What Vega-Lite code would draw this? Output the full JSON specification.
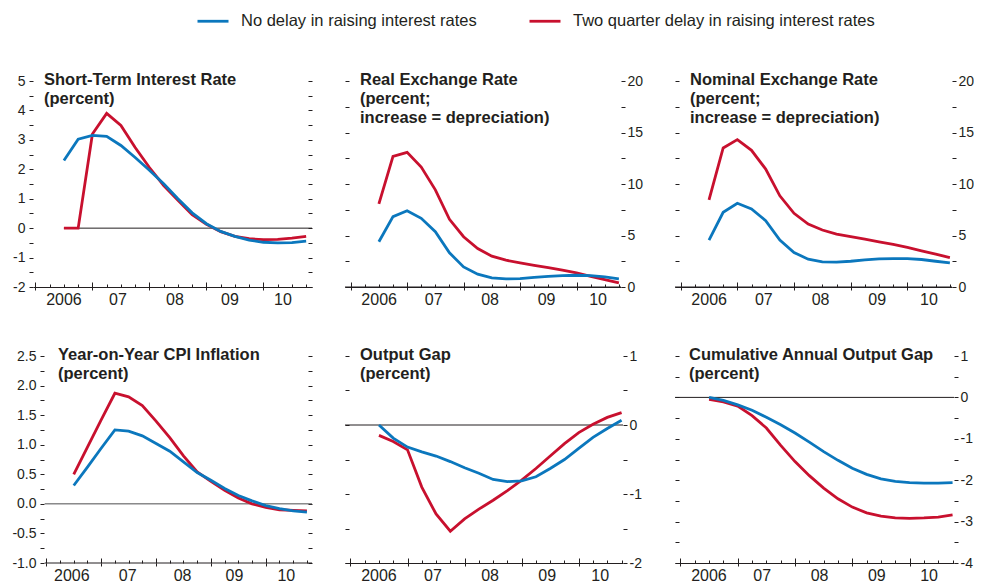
{
  "$schema": "https://vega.github.io/schema/vega-lite/v6.json",
  "padding": {"left": 11, "top": 4, "right": 0, "bottom": 0},
  "config": {
    "view": {"stroke": null},
    "font": "Liberation Sans, Arial, Helvetica, sans-serif",
    "axis": {"labelFont": "Liberation Sans, Arial, Helvetica, sans-serif", "labelColor": "#231f20", "tickColor": "#231f20", "domainColor": "#231f20", "grid": false, "minExtent": 0, "labelOverlap": false, "labelFontSize": 14, "tickWidth": 1, "domainWidth": 1},
    "title": {"font": "Liberation Sans, Arial, Helvetica, sans-serif", "fontSize": 16.5, "fontWeight": "bold", "anchor": "start", "frame": "group", "orient": "top", "lineHeight": 19, "color": "#231f20"},
    "legend": {"orient": "none", "legendX": 163, "legendY": -77, "direction": "horizontal", "title": null, "symbolType": "stroke", "symbolSize": 961, "symbolStrokeWidth": 2.8, "labelFont": "Liberation Sans, Arial, Helvetica, sans-serif", "labelFontSize": 16.5, "labelColor": "#231f20", "columnPadding": 46, "labelOffset": 11, "labelLimit": 0}
  },
  "datasets": {
    "d1": [
      {"t": 0, "No delay in raising interest rates": 2.30, "Two quarter delay in raising interest rates": 0},
      {"t": 1, "No delay in raising interest rates": 3.02, "Two quarter delay in raising interest rates": 0},
      {"t": 2, "No delay in raising interest rates": 3.15, "Two quarter delay in raising interest rates": 3.20},
      {"t": 3, "No delay in raising interest rates": 3.12, "Two quarter delay in raising interest rates": 3.90},
      {"t": 4, "No delay in raising interest rates": 2.81, "Two quarter delay in raising interest rates": 3.49},
      {"t": 5, "No delay in raising interest rates": 2.40, "Two quarter delay in raising interest rates": 2.74},
      {"t": 6, "No delay in raising interest rates": 1.97, "Two quarter delay in raising interest rates": 2.06},
      {"t": 7, "No delay in raising interest rates": 1.51, "Two quarter delay in raising interest rates": 1.45},
      {"t": 8, "No delay in raising interest rates": 1.00, "Two quarter delay in raising interest rates": 0.95},
      {"t": 9, "No delay in raising interest rates": 0.52, "Two quarter delay in raising interest rates": 0.46},
      {"t": 10, "No delay in raising interest rates": 0.15, "Two quarter delay in raising interest rates": 0.13},
      {"t": 11, "No delay in raising interest rates": -0.11, "Two quarter delay in raising interest rates": -0.12},
      {"t": 12, "No delay in raising interest rates": -0.28, "Two quarter delay in raising interest rates": -0.28},
      {"t": 13, "No delay in raising interest rates": -0.41, "Two quarter delay in raising interest rates": -0.36},
      {"t": 14, "No delay in raising interest rates": -0.48, "Two quarter delay in raising interest rates": -0.39},
      {"t": 15, "No delay in raising interest rates": -0.50, "Two quarter delay in raising interest rates": -0.38},
      {"t": 16, "No delay in raising interest rates": -0.49, "Two quarter delay in raising interest rates": -0.34},
      {"t": 17, "No delay in raising interest rates": -0.44, "Two quarter delay in raising interest rates": -0.28}
    ],
    "d2": [
      {"t": 0, "No delay in raising interest rates": 4.39, "Two quarter delay in raising interest rates": 8.07},
      {"t": 1, "No delay in raising interest rates": 6.83, "Two quarter delay in raising interest rates": 12.68},
      {"t": 2, "No delay in raising interest rates": 7.41, "Two quarter delay in raising interest rates": 13.07},
      {"t": 3, "No delay in raising interest rates": 6.67, "Two quarter delay in raising interest rates": 11.64},
      {"t": 4, "No delay in raising interest rates": 5.37, "Two quarter delay in raising interest rates": 9.43},
      {"t": 5, "No delay in raising interest rates": 3.32, "Two quarter delay in raising interest rates": 6.57},
      {"t": 6, "No delay in raising interest rates": 1.95, "Two quarter delay in raising interest rates": 4.88},
      {"t": 7, "No delay in raising interest rates": 1.24, "Two quarter delay in raising interest rates": 3.74},
      {"t": 8, "No delay in raising interest rates": 0.88, "Two quarter delay in raising interest rates": 2.99},
      {"t": 9, "No delay in raising interest rates": 0.78, "Two quarter delay in raising interest rates": 2.60},
      {"t": 10, "No delay in raising interest rates": 0.81, "Two quarter delay in raising interest rates": 2.34},
      {"t": 11, "No delay in raising interest rates": 0.94, "Two quarter delay in raising interest rates": 2.11},
      {"t": 12, "No delay in raising interest rates": 1.04, "Two quarter delay in raising interest rates": 1.89},
      {"t": 13, "No delay in raising interest rates": 1.10, "Two quarter delay in raising interest rates": 1.63},
      {"t": 14, "No delay in raising interest rates": 1.14, "Two quarter delay in raising interest rates": 1.37},
      {"t": 15, "No delay in raising interest rates": 1.10, "Two quarter delay in raising interest rates": 1.04},
      {"t": 16, "No delay in raising interest rates": 0.98, "Two quarter delay in raising interest rates": 0.72},
      {"t": 17, "No delay in raising interest rates": 0.78, "Two quarter delay in raising interest rates": 0.39}
    ],
    "d3": [
      {"t": 0, "No delay in raising interest rates": 4.55, "Two quarter delay in raising interest rates": 8.46},
      {"t": 1, "No delay in raising interest rates": 7.25, "Two quarter delay in raising interest rates": 13.50},
      {"t": 2, "No delay in raising interest rates": 8.13, "Two quarter delay in raising interest rates": 14.31},
      {"t": 3, "No delay in raising interest rates": 7.58, "Two quarter delay in raising interest rates": 13.27},
      {"t": 4, "No delay in raising interest rates": 6.44, "Two quarter delay in raising interest rates": 11.45},
      {"t": 5, "No delay in raising interest rates": 4.55, "Two quarter delay in raising interest rates": 8.85},
      {"t": 6, "No delay in raising interest rates": 3.35, "Two quarter delay in raising interest rates": 7.15},
      {"t": 7, "No delay in raising interest rates": 2.70, "Two quarter delay in raising interest rates": 6.11},
      {"t": 8, "No delay in raising interest rates": 2.44, "Two quarter delay in raising interest rates": 5.53},
      {"t": 9, "No delay in raising interest rates": 2.41, "Two quarter delay in raising interest rates": 5.14},
      {"t": 10, "No delay in raising interest rates": 2.50, "Two quarter delay in raising interest rates": 4.88},
      {"t": 11, "No delay in raising interest rates": 2.63, "Two quarter delay in raising interest rates": 4.65},
      {"t": 12, "No delay in raising interest rates": 2.73, "Two quarter delay in raising interest rates": 4.39},
      {"t": 13, "No delay in raising interest rates": 2.76, "Two quarter delay in raising interest rates": 4.13},
      {"t": 14, "No delay in raising interest rates": 2.76, "Two quarter delay in raising interest rates": 3.84},
      {"t": 15, "No delay in raising interest rates": 2.67, "Two quarter delay in raising interest rates": 3.51},
      {"t": 16, "No delay in raising interest rates": 2.50, "Two quarter delay in raising interest rates": 3.19},
      {"t": 17, "No delay in raising interest rates": 2.34, "Two quarter delay in raising interest rates": 2.86}
    ],
    "d4": [
      {"t": 0, "No delay in raising interest rates": 0.31, "Two quarter delay in raising interest rates": 0.50},
      {"t": 1, "No delay in raising interest rates": 0.62, "Two quarter delay in raising interest rates": 0.96},
      {"t": 2, "No delay in raising interest rates": 0.94, "Two quarter delay in raising interest rates": 1.42},
      {"t": 3, "No delay in raising interest rates": 1.25, "Two quarter delay in raising interest rates": 1.87},
      {"t": 4, "No delay in raising interest rates": 1.23, "Two quarter delay in raising interest rates": 1.81},
      {"t": 5, "No delay in raising interest rates": 1.15, "Two quarter delay in raising interest rates": 1.66},
      {"t": 6, "No delay in raising interest rates": 1.02, "Two quarter delay in raising interest rates": 1.40},
      {"t": 7, "No delay in raising interest rates": 0.89, "Two quarter delay in raising interest rates": 1.12},
      {"t": 8, "No delay in raising interest rates": 0.71, "Two quarter delay in raising interest rates": 0.81},
      {"t": 9, "No delay in raising interest rates": 0.53, "Two quarter delay in raising interest rates": 0.54},
      {"t": 10, "No delay in raising interest rates": 0.40, "Two quarter delay in raising interest rates": 0.38},
      {"t": 11, "No delay in raising interest rates": 0.26, "Two quarter delay in raising interest rates": 0.23},
      {"t": 12, "No delay in raising interest rates": 0.14, "Two quarter delay in raising interest rates": 0.10},
      {"t": 13, "No delay in raising interest rates": 0.05, "Two quarter delay in raising interest rates": 0.00},
      {"t": 14, "No delay in raising interest rates": -0.03, "Two quarter delay in raising interest rates": -0.06},
      {"t": 15, "No delay in raising interest rates": -0.08, "Two quarter delay in raising interest rates": -0.10},
      {"t": 16, "No delay in raising interest rates": -0.12, "Two quarter delay in raising interest rates": -0.11},
      {"t": 17, "No delay in raising interest rates": -0.14, "Two quarter delay in raising interest rates": -0.12}
    ],
    "d5": [
      {"t": 0, "No delay in raising interest rates": 0.00, "Two quarter delay in raising interest rates": -0.15},
      {"t": 1, "No delay in raising interest rates": -0.19, "Two quarter delay in raising interest rates": -0.24},
      {"t": 2, "No delay in raising interest rates": -0.32, "Two quarter delay in raising interest rates": -0.36},
      {"t": 3, "No delay in raising interest rates": -0.39, "Two quarter delay in raising interest rates": -0.90},
      {"t": 4, "No delay in raising interest rates": -0.45, "Two quarter delay in raising interest rates": -1.29},
      {"t": 5, "No delay in raising interest rates": -0.53, "Two quarter delay in raising interest rates": -1.54},
      {"t": 6, "No delay in raising interest rates": -0.62, "Two quarter delay in raising interest rates": -1.36},
      {"t": 7, "No delay in raising interest rates": -0.70, "Two quarter delay in raising interest rates": -1.22},
      {"t": 8, "No delay in raising interest rates": -0.79, "Two quarter delay in raising interest rates": -1.09},
      {"t": 9, "No delay in raising interest rates": -0.82, "Two quarter delay in raising interest rates": -0.95},
      {"t": 10, "No delay in raising interest rates": -0.81, "Two quarter delay in raising interest rates": -0.80},
      {"t": 11, "No delay in raising interest rates": -0.75, "Two quarter delay in raising interest rates": -0.63},
      {"t": 12, "No delay in raising interest rates": -0.63, "Two quarter delay in raising interest rates": -0.45},
      {"t": 13, "No delay in raising interest rates": -0.50, "Two quarter delay in raising interest rates": -0.27},
      {"t": 14, "No delay in raising interest rates": -0.34, "Two quarter delay in raising interest rates": -0.11},
      {"t": 15, "No delay in raising interest rates": -0.18, "Two quarter delay in raising interest rates": 0.01},
      {"t": 16, "No delay in raising interest rates": -0.05, "Two quarter delay in raising interest rates": 0.11},
      {"t": 17, "No delay in raising interest rates": 0.07, "Two quarter delay in raising interest rates": 0.18}
    ],
    "d6": [
      {"t": 0, "No delay in raising interest rates": 0.00, "Two quarter delay in raising interest rates": -0.05},
      {"t": 1, "No delay in raising interest rates": -0.07, "Two quarter delay in raising interest rates": -0.11},
      {"t": 2, "No delay in raising interest rates": -0.18, "Two quarter delay in raising interest rates": -0.21},
      {"t": 3, "No delay in raising interest rates": -0.31, "Two quarter delay in raising interest rates": -0.44},
      {"t": 4, "No delay in raising interest rates": -0.48, "Two quarter delay in raising interest rates": -0.74},
      {"t": 5, "No delay in raising interest rates": -0.66, "Two quarter delay in raising interest rates": -1.16},
      {"t": 6, "No delay in raising interest rates": -0.86, "Two quarter delay in raising interest rates": -1.55},
      {"t": 7, "No delay in raising interest rates": -1.08, "Two quarter delay in raising interest rates": -1.89},
      {"t": 8, "No delay in raising interest rates": -1.31, "Two quarter delay in raising interest rates": -2.19},
      {"t": 9, "No delay in raising interest rates": -1.52, "Two quarter delay in raising interest rates": -2.45},
      {"t": 10, "No delay in raising interest rates": -1.71, "Two quarter delay in raising interest rates": -2.65},
      {"t": 11, "No delay in raising interest rates": -1.86, "Two quarter delay in raising interest rates": -2.79},
      {"t": 12, "No delay in raising interest rates": -1.97, "Two quarter delay in raising interest rates": -2.87},
      {"t": 13, "No delay in raising interest rates": -2.03, "Two quarter delay in raising interest rates": -2.91},
      {"t": 14, "No delay in raising interest rates": -2.06, "Two quarter delay in raising interest rates": -2.92},
      {"t": 15, "No delay in raising interest rates": -2.07, "Two quarter delay in raising interest rates": -2.91},
      {"t": 16, "No delay in raising interest rates": -2.07, "Two quarter delay in raising interest rates": -2.89},
      {"t": 17, "No delay in raising interest rates": -2.06, "Two quarter delay in raising interest rates": -2.84}
    ]
  },
  "columns": 3,
  "align": "each",
  "spacing": {"row": 39, "column": 31},
  "concat": [
    {
      "width": 279, "height": 206,
      "title": {"text": ["Short-Term Interest Rate", "(percent)"], "dx": 11, "offset": -33},
      "layer": [
        {
          "data": {"values": [{}]},
          "mark": {"type": "rule", "color": "#231f20", "strokeWidth": 1},
          "encoding": {
            "x": {"datum": 0, "type": "quantitative", "scale": {"domain": [-2.17, 17.41], "nice": false, "zero": false},
              "axis": {"orient": "bottom", "title": null, "values": [-2, 2, 6, 10, 14], "domain": false, "tickSize": 3, "labelPadding": 1, "labelFontSize": 16, "labelFlush": false, "labelBound": false,
                "labelExpr": "datum.value < 0 ? '2006' : datum.value < 4 ? '07' : datum.value < 8 ? '08' : datum.value < 12 ? '09' : '10'",
                "labelOffset": {"condition": [{"test": "datum.value < 0", "value": 28}, {"test": "datum.value > 12", "value": 19}, {"test": "datum.value > 8", "value": 23}], "value": 25}}},
            "x2": {"datum": 17.41},
            "y": {"datum": 0, "type": "quantitative", "scale": {"domain": [-2, 5], "nice": false, "zero": false},
              "axis": {"orient": "right", "title": null, "values": [-2, -1.5, -1, -0.5, 0, 0.5, 1, 1.5, 2, 2.5, 3, 3.5, 4, 4.5, 5], "tickSize": -4, "labels": false, "domain": false}}
          }
        },
        {
          "data": {"name": "d1"},
          "transform": [{"fold": ["Two quarter delay in raising interest rates", "No delay in raising interest rates"], "as": ["series", "value"]}],
          "mark": {"type": "line", "strokeWidth": 2.8},
          "encoding": {
            "x": {"field": "t", "type": "quantitative",
              "axis": {"orient": "bottom", "title": null, "values": [-2, -1, 0, 1, 2, 3, 4, 5, 6, 7, 8, 9, 10, 11, 12, 13, 14, 15, 16, 17], "labels": false, "domain": true,
                "tickSize": {"condition": {"test": "indexof([-2, 2, 6, 10, 14], datum.value) >= 0", "value": -5}, "value": -3}}},
            "y": {"field": "value", "type": "quantitative",
              "axis": {"orient": "left", "title": null, "values": [-2, -1.5, -1, -0.5, 0, 0.5, 1, 1.5, 2, 2.5, 3, 3.5, 4, 4.5, 5], "tickSize": 4, "labelPadding": 4, "domain": false,
                "labelExpr": "datum.value % 1 ? '' : replace(format(datum.value, 'd'), '\u2212', '-')"}},
            "color": {"field": "series", "type": "nominal",
              "scale": {"domain": ["No delay in raising interest rates", "Two quarter delay in raising interest rates"], "range": ["#0b77bd", "#c8102e"]}}
          }
        }
      ],
      "resolve": {"axis": {"x": "independent", "y": "independent"}}
    },
    {
      "width": 276, "height": 206,
      "title": {"text": ["Real Exchange Rate", "(percent;", "increase = depreciation)"], "dx": 15, "offset": -52},
      "layer": [
        {
          "data": {"values": [{}]},
          "mark": {"type": "rule", "color": "#231f20", "strokeWidth": 1},
          "encoding": {
            "x": {"datum": -2.4, "type": "quantitative", "scale": {"domain": [-2.4, 17.15], "nice": false, "zero": false},
              "axis": {"orient": "bottom", "title": null, "values": [-2, 2, 6, 10, 14], "domain": false, "tickSize": 3, "labelPadding": 1, "labelFontSize": 16, "labelFlush": false, "labelBound": false,
                "labelExpr": "datum.value < 0 ? '2006' : datum.value < 4 ? '07' : datum.value < 8 ? '08' : datum.value < 12 ? '09' : '10'",
                "labelOffset": {"condition": [{"test": "datum.value < 0", "value": 28}, {"test": "datum.value > 12", "value": 21}, {"test": "datum.value > 8", "value": 26}], "value": 26}}},
            "x2": {"datum": 17.15},
            "y": {"datum": 0, "type": "quantitative", "scale": {"domain": [0, 20], "nice": false, "zero": false},
              "axis": {"orient": "left", "title": null, "values": [0, 2.5, 5, 7.5, 10, 12.5, 15, 17.5, 20], "tickSize": -4, "labels": false, "domain": false}}
          }
        },
        {
          "data": {"name": "d2"},
          "transform": [{"fold": ["Two quarter delay in raising interest rates", "No delay in raising interest rates"], "as": ["series", "value"]}],
          "mark": {"type": "line", "strokeWidth": 2.8},
          "encoding": {
            "x": {"field": "t", "type": "quantitative",
              "axis": {"orient": "bottom", "title": null, "values": [-2, -1, 0, 1, 2, 3, 4, 5, 6, 7, 8, 9, 10, 11, 12, 13, 14, 15, 16, 17], "labels": false, "domain": true,
                "tickSize": {"condition": {"test": "indexof([-2, 2, 6, 10, 14], datum.value) >= 0", "value": -5}, "value": -3}}},
            "y": {"field": "value", "type": "quantitative",
              "axis": {"orient": "right", "title": null, "values": [0, 2.5, 5, 7.5, 10, 12.5, 15, 17.5, 20], "tickSize": 4, "labelPadding": 2, "domain": false,
                "labelExpr": "datum.value % 5 ? '' : format(datum.value, 'd')"}},
            "color": {"field": "series", "type": "nominal",
              "scale": {"domain": ["No delay in raising interest rates", "Two quarter delay in raising interest rates"], "range": ["#0b77bd", "#c8102e"]}}
          }
        }
      ],
      "resolve": {"axis": {"x": "independent", "y": "independent"}}
    },
    {
      "width": 277, "height": 206,
      "title": {"text": ["Nominal Exchange Rate", "(percent;", "increase = depreciation)"], "dx": 15, "offset": -52},
      "layer": [
        {
          "data": {"values": [{}]},
          "mark": {"type": "rule", "color": "#231f20", "strokeWidth": 1},
          "encoding": {
            "x": {"datum": -2.4, "type": "quantitative", "scale": {"domain": [-2.4, 17.15], "nice": false, "zero": false},
              "axis": {"orient": "bottom", "title": null, "values": [-2, 2, 6, 10, 14], "domain": false, "tickSize": 3, "labelPadding": 1, "labelFontSize": 16, "labelFlush": false, "labelBound": false,
                "labelExpr": "datum.value < 0 ? '2006' : datum.value < 4 ? '07' : datum.value < 8 ? '08' : datum.value < 12 ? '09' : '10'",
                "labelOffset": {"condition": [{"test": "datum.value < 0", "value": 28}, {"test": "datum.value > 12", "value": 21}, {"test": "datum.value > 8", "value": 26}], "value": 26}}},
            "x2": {"datum": 17.15},
            "y": {"datum": 0, "type": "quantitative", "scale": {"domain": [0, 20], "nice": false, "zero": false},
              "axis": {"orient": "left", "title": null, "values": [0, 2.5, 5, 7.5, 10, 12.5, 15, 17.5, 20], "tickSize": -4, "labels": false, "domain": false}}
          }
        },
        {
          "data": {"name": "d3"},
          "transform": [{"fold": ["Two quarter delay in raising interest rates", "No delay in raising interest rates"], "as": ["series", "value"]}],
          "mark": {"type": "line", "strokeWidth": 2.8},
          "encoding": {
            "x": {"field": "t", "type": "quantitative",
              "axis": {"orient": "bottom", "title": null, "values": [-2, -1, 0, 1, 2, 3, 4, 5, 6, 7, 8, 9, 10, 11, 12, 13, 14, 15, 16, 17], "labels": false, "domain": true,
                "tickSize": {"condition": {"test": "indexof([-2, 2, 6, 10, 14], datum.value) >= 0", "value": -5}, "value": -3}}},
            "y": {"field": "value", "type": "quantitative",
              "axis": {"orient": "right", "title": null, "values": [0, 2.5, 5, 7.5, 10, 12.5, 15, 17.5, 20], "tickSize": 4, "labelPadding": 2, "domain": false,
                "labelExpr": "datum.value % 5 ? '' : format(datum.value, 'd')"}},
            "color": {"field": "series", "type": "nominal",
              "scale": {"domain": ["No delay in raising interest rates", "Two quarter delay in raising interest rates"], "range": ["#0b77bd", "#c8102e"]}}
          }
        }
      ],
      "resolve": {"axis": {"x": "independent", "y": "independent"}}
    },
    {
      "width": 279, "height": 207,
      "title": {"text": ["Year-on-Year CPI Inflation", "(percent)"], "dx": 25, "offset": -33},
      "layer": [
        {
          "data": {"values": [{}]},
          "mark": {"type": "rule", "color": "#4d4d4f", "strokeWidth": 1},
          "encoding": {
            "x": {"datum": -2.12, "type": "quantitative", "scale": {"domain": [-2.97, 17.37], "nice": false, "zero": false},
              "axis": {"orient": "bottom", "title": null, "values": [-2, 2, 6, 10, 14], "domain": false, "tickSize": 3, "labelPadding": 1, "labelFontSize": 16, "labelFlush": false, "labelBound": false,
                "labelExpr": "datum.value < 0 ? '2006' : datum.value < 4 ? '07' : datum.value < 8 ? '08' : datum.value < 12 ? '09' : '10'",
                "labelOffset": {"condition": [{"test": "datum.value < 0", "value": 25}, {"test": "datum.value > 12", "value": 20}, {"test": "datum.value > 8", "value": 23}], "value": 26}}},
            "x2": {"datum": 17.37},
            "y": {"datum": 0, "type": "quantitative", "scale": {"domain": [-1, 2.5], "nice": false, "zero": false},
              "axis": {"orient": "right", "title": null, "values": [-1, -0.75, -0.5, -0.25, 0, 0.25, 0.5, 0.75, 1, 1.25, 1.5, 1.75, 2, 2.25, 2.5], "tickSize": -4, "labels": false, "domain": false}}
          }
        },
        {
          "data": {"values": [{}]},
          "mark": {"type": "rule", "color": "#231f20", "strokeWidth": 1},
          "encoding": {
            "x": {"datum": -2.12, "type": "quantitative", "axis": null},
            "x2": {"datum": 17.37},
            "y": {"datum": -1, "type": "quantitative", "axis": null}
          }
        },
        {
          "data": {"name": "d4"},
          "transform": [{"fold": ["Two quarter delay in raising interest rates", "No delay in raising interest rates"], "as": ["series", "value"]}],
          "mark": {"type": "line", "strokeWidth": 2.8},
          "encoding": {
            "x": {"field": "t", "type": "quantitative",
              "axis": {"orient": "bottom", "title": null, "values": [-2, -1, 0, 1, 2, 3, 4, 5, 6, 7, 8, 9, 10, 11, 12, 13, 14, 15, 16, 17], "labels": false, "domain": false,
                "tickSize": {"condition": {"test": "indexof([-2, 2, 6, 10, 14], datum.value) >= 0", "value": -5}, "value": -3}}},
            "y": {"field": "value", "type": "quantitative",
              "axis": {"orient": "left", "title": null, "offset": -11, "values": [-1, -0.75, -0.5, -0.25, 0, 0.25, 0.5, 0.75, 1, 1.25, 1.5, 1.75, 2, 2.25, 2.5], "tickSize": 4, "labelPadding": 4, "domain": false,
                "labelExpr": "datum.value % 0.5 ? '' : replace(format(datum.value, '.1f'), '\u2212', '-')"}},
            "color": {"field": "series", "type": "nominal",
              "scale": {"domain": ["No delay in raising interest rates", "Two quarter delay in raising interest rates"], "range": ["#0b77bd", "#c8102e"]}}
          }
        }
      ],
      "resolve": {"axis": {"x": "independent", "y": "independent"}}
    },
    {
      "width": 278, "height": 207,
      "title": {"text": ["Output Gap", "(percent)"], "dx": 15, "offset": -33},
      "layer": [
        {
          "data": {"values": [{}]},
          "mark": {"type": "rule", "color": "#231f20", "strokeWidth": 1},
          "encoding": {
            "x": {"datum": -2.38, "type": "quantitative", "scale": {"domain": [-2.38, 17.1], "nice": false, "zero": false},
              "axis": {"orient": "bottom", "title": null, "values": [-2, 2, 6, 10, 14], "domain": false, "tickSize": 3, "labelPadding": 1, "labelFontSize": 16, "labelFlush": false, "labelBound": false,
                "labelExpr": "datum.value < 0 ? '2006' : datum.value < 4 ? '07' : datum.value < 8 ? '08' : datum.value < 12 ? '09' : '10'",
                "labelOffset": {"condition": [{"test": "datum.value < 0", "value": 28}, {"test": "datum.value > 12", "value": 21}, {"test": "datum.value > 8", "value": 25}], "value": 25}}},
            "x2": {"datum": 17.1},
            "y": {"datum": 0, "type": "quantitative", "scale": {"domain": [-2, 1], "nice": false, "zero": false},
              "axis": {"orient": "left", "title": null, "values": [-2, -1.5, -1, -0.5, 0, 0.5, 1], "tickSize": -4, "labels": false, "domain": false}}
          }
        },
        {
          "data": {"name": "d5"},
          "transform": [{"fold": ["Two quarter delay in raising interest rates", "No delay in raising interest rates"], "as": ["series", "value"]}],
          "mark": {"type": "line", "strokeWidth": 2.8},
          "encoding": {
            "x": {"field": "t", "type": "quantitative",
              "axis": {"orient": "bottom", "title": null, "values": [-2, -1, 0, 1, 2, 3, 4, 5, 6, 7, 8, 9, 10, 11, 12, 13, 14, 15, 16, 17], "labels": false, "domain": true,
                "tickSize": {"condition": {"test": "indexof([-2, 2, 6, 10, 14], datum.value) >= 0", "value": -5}, "value": -3}}},
            "y": {"field": "value", "type": "quantitative",
              "axis": {"orient": "right", "title": null, "values": [-2, -1.5, -1, -0.5, 0, 0.5, 1], "tickSize": 4, "labelPadding": 2, "domain": false,
                "labelExpr": "datum.value % 1 ? '' : replace(format(datum.value, 'd'), '\u2212', '-')"}},
            "color": {"field": "series", "type": "nominal",
              "scale": {"domain": ["No delay in raising interest rates", "Two quarter delay in raising interest rates"], "range": ["#0b77bd", "#c8102e"]}}
          }
        }
      ],
      "resolve": {"axis": {"x": "independent", "y": "independent"}}
    },
    {
      "width": 279, "height": 207,
      "title": {"text": ["Cumulative Annual Output Gap", "(percent)"], "dx": 14, "offset": -33},
      "layer": [
        {
          "data": {"values": [{}]},
          "mark": {"type": "rule", "color": "#231f20", "strokeWidth": 1},
          "encoding": {
            "x": {"datum": -2.38, "type": "quantitative", "scale": {"domain": [-2.38, 17.1], "nice": false, "zero": false},
              "axis": {"orient": "bottom", "title": null, "values": [-2, 2, 6, 10, 14], "domain": false, "tickSize": 3, "labelPadding": 1, "labelFontSize": 16, "labelFlush": false, "labelBound": false,
                "labelExpr": "datum.value < 0 ? '2006' : datum.value < 4 ? '07' : datum.value < 8 ? '08' : datum.value < 12 ? '09' : '10'",
                "labelOffset": {"condition": [{"test": "datum.value < 0", "value": 28}, {"test": "datum.value > 12", "value": 19}, {"test": "datum.value > 8", "value": 24}], "value": 24}}},
            "x2": {"datum": 17.1},
            "y": {"datum": 0, "type": "quantitative", "scale": {"domain": [-4, 1], "nice": false, "zero": false},
              "axis": {"orient": "left", "title": null, "values": [-4, -3.5, -3, -2.5, -2, -1.5, -1, -0.5, 0, 0.5, 1], "tickSize": -4, "labels": false, "domain": false}}
          }
        },
        {
          "data": {"name": "d6"},
          "transform": [{"fold": ["Two quarter delay in raising interest rates", "No delay in raising interest rates"], "as": ["series", "value"]}],
          "mark": {"type": "line", "strokeWidth": 2.8},
          "encoding": {
            "x": {"field": "t", "type": "quantitative",
              "axis": {"orient": "bottom", "title": null, "values": [-2, -1, 0, 1, 2, 3, 4, 5, 6, 7, 8, 9, 10, 11, 12, 13, 14, 15, 16, 17], "labels": false, "domain": true,
                "tickSize": {"condition": {"test": "indexof([-2, 2, 6, 10, 14], datum.value) >= 0", "value": -5}, "value": -3}}},
            "y": {"field": "value", "type": "quantitative",
              "axis": {"orient": "right", "title": null, "values": [-4, -3.5, -3, -2.5, -2, -1.5, -1, -0.5, 0, 0.5, 1], "tickSize": 4, "labelPadding": 2, "domain": false,
                "labelExpr": "datum.value % 1 ? '' : replace(format(datum.value, 'd'), '\u2212', '-')"}},
            "color": {"field": "series", "type": "nominal",
              "scale": {"domain": ["No delay in raising interest rates", "Two quarter delay in raising interest rates"], "range": ["#0b77bd", "#c8102e"]}}
          }
        }
      ],
      "resolve": {"axis": {"x": "independent", "y": "independent"}}
    }
  ]
}
